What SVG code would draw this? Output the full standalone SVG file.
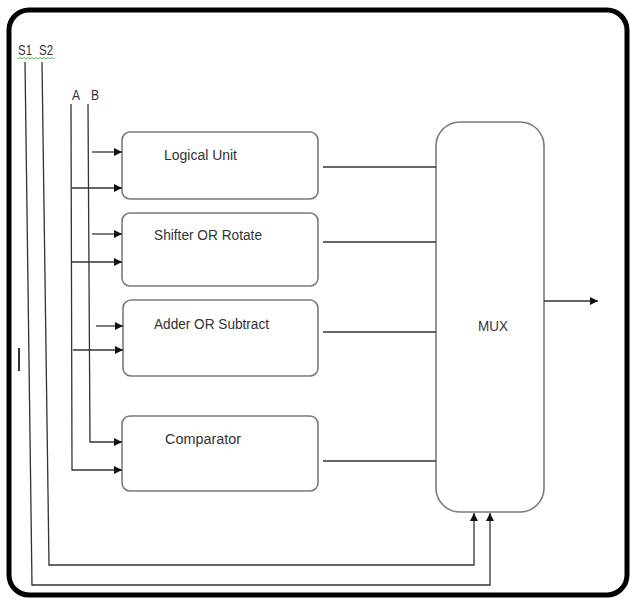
<svg xmlns="http://www.w3.org/2000/svg" width="630" height="600" viewBox="0 0 630 600">
<defs>
<marker id="arr" viewBox="0 0 10 10" refX="10" refY="5" markerWidth="8" markerHeight="8" markerUnits="userSpaceOnUse" orient="auto">
<path d="M0,0 L10,5 L0,10 z" fill="#111"/>
</marker>
<style>
.box{fill:#fff;stroke:#7a7a7a;stroke-width:1.6}
.ln{fill:none;stroke:#333;stroke-width:1.3}
.t{font-family:"Liberation Sans",Arial,sans-serif;font-size:14px;fill:#333}
</style>
</defs>
<rect x="0" y="0" width="630" height="600" fill="#fff"/>
<rect x="9" y="10" width="618" height="585" rx="20" ry="20" fill="none" stroke="#000" stroke-width="5"/>
<g id="labels">
<text class="t" x="18" y="55" textLength="14" lengthAdjust="spacingAndGlyphs">S1</text>
<text class="t" x="39" y="55" textLength="14" lengthAdjust="spacingAndGlyphs">S2</text>
<polyline points="18,59 20,57.5 22,59 24,57.5 26,59 28,57.5 30,59 32,57.5 34,59 36,57.5 38,59 40,57.5 42,59 44,57.5 46,59 48,57.5 50,59 52,57.5 54,59" fill="none" stroke="#5cb85c" stroke-width="1"/>
<text class="t" x="72" y="100" textLength="8" lengthAdjust="spacingAndGlyphs">A</text>
<text class="t" x="91" y="100" textLength="8" lengthAdjust="spacingAndGlyphs">B</text>
<line x1="19" y1="348" x2="19" y2="371" stroke="#333" stroke-width="2"/>
</g>
<g id="logical">
<rect class="box" x="122" y="132" width="196" height="67" rx="8"/>
<text class="t" x="164" y="160" textLength="73" lengthAdjust="spacingAndGlyphs">Logical Unit</text>
</g>
<g id="shifter">
<rect class="box" x="122" y="213" width="196" height="73" rx="8"/>
<text class="t" x="154" y="240" textLength="108" lengthAdjust="spacingAndGlyphs">Shifter OR Rotate</text>
</g>
<g id="adder">
<rect class="box" x="123" y="300" width="195" height="76" rx="8"/>
<text class="t" x="154" y="329" textLength="115" lengthAdjust="spacingAndGlyphs">Adder OR Subtract</text>
</g>
<g id="comparator">
<rect class="box" x="122" y="416" width="196" height="75" rx="8"/>
<text class="t" x="165" y="444" textLength="76" lengthAdjust="spacingAndGlyphs">Comparator</text>
</g>
<g id="mux">
<rect class="box" x="436" y="122" width="108" height="390" rx="24"/>
<text class="t" x="478" y="331" textLength="30" lengthAdjust="spacingAndGlyphs">MUX</text>
</g>
<g id="connectors">
<polyline class="ln" points="25,62 32,585 490,585 490,513" marker-end="url(#arr)"/>
<polyline class="ln" points="42,62 49,565 474,565 474,513" marker-end="url(#arr)"/>
<polyline class="ln" points="71,104 72,470 122,470" marker-end="url(#arr)"/>
<polyline class="ln" points="88,104 90,442 122,442" marker-end="url(#arr)"/>
<line class="ln" x1="92" y1="152" x2="122" y2="152" marker-end="url(#arr)"/>
<line class="ln" x1="72" y1="188" x2="122" y2="188" marker-end="url(#arr)"/>
<line class="ln" x1="92" y1="234" x2="122" y2="234" marker-end="url(#arr)"/>
<line class="ln" x1="72" y1="262" x2="122" y2="262" marker-end="url(#arr)"/>
<line class="ln" x1="96" y1="326" x2="123" y2="326" marker-end="url(#arr)"/>
<line class="ln" x1="73" y1="350" x2="123" y2="350" marker-end="url(#arr)"/>
<line class="ln" x1="323" y1="167" x2="436" y2="167"/>
<line class="ln" x1="323" y1="242" x2="436" y2="242"/>
<line class="ln" x1="323" y1="332" x2="436" y2="332"/>
<line class="ln" x1="323" y1="461" x2="436" y2="461"/>
<line class="ln" x1="544" y1="301" x2="598" y2="301" marker-end="url(#arr)"/>
</g>
</svg>
